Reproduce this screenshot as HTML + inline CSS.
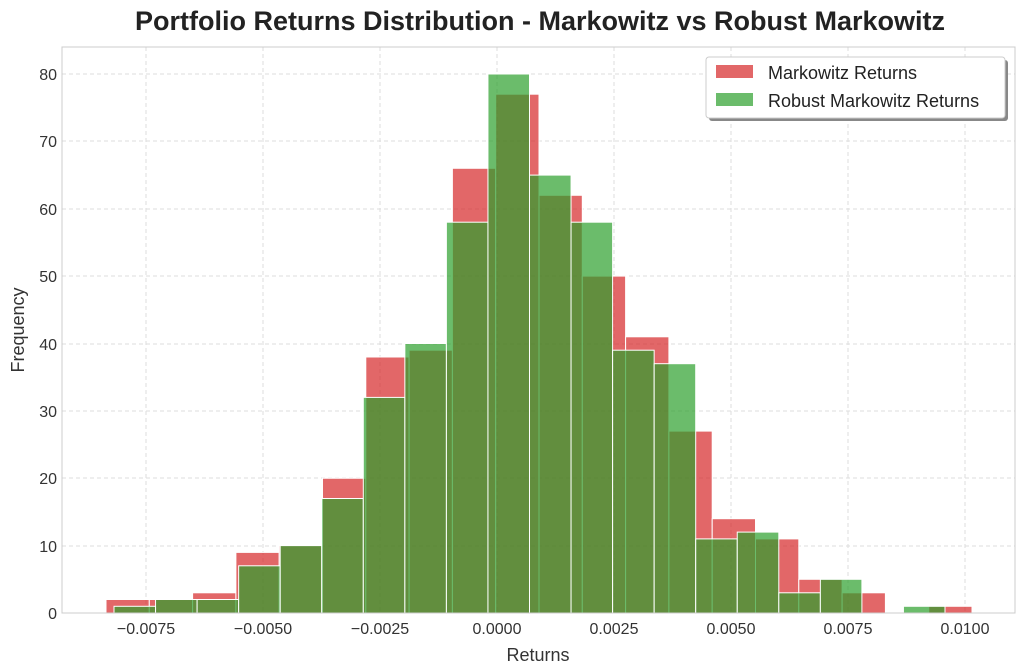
<!DOCTYPE html>
<html><head><meta charset="utf-8"><style>body{margin:0;background:#fff}svg{display:block;font-family:"Liberation Sans",Arial,sans-serif}</style></head><body>
<svg width="1024" height="672" viewBox="0 0 1024 672" xmlns="http://www.w3.org/2000/svg">
<rect width="1024" height="672" fill="#fff"/>
<text x="540" y="30" text-anchor="middle" font-size="27" font-weight="bold" fill="#222">Portfolio Returns Distribution - Markowitz vs Robust Markowitz</text>
<g stroke="#ddd" stroke-dasharray="4,3" stroke-width="1">
<line x1="146" y1="47" x2="146" y2="613"/><line x1="263" y1="47" x2="263" y2="613"/><line x1="380" y1="47" x2="380" y2="613"/><line x1="497" y1="47" x2="497" y2="613"/><line x1="614" y1="47" x2="614" y2="613"/><line x1="731" y1="47" x2="731" y2="613"/><line x1="848" y1="47" x2="848" y2="613"/><line x1="965" y1="47" x2="965" y2="613"/>
<line x1="62" y1="546" x2="1015" y2="546"/><line x1="62" y1="478" x2="1015" y2="478"/><line x1="62" y1="411" x2="1015" y2="411"/><line x1="62" y1="344" x2="1015" y2="344"/><line x1="62" y1="276" x2="1015" y2="276"/><line x1="62" y1="209" x2="1015" y2="209"/><line x1="62" y1="141" x2="1015" y2="141"/><line x1="62" y1="74" x2="1015" y2="74"/>
</g>
<g stroke="#fff" stroke-width="1" fill="rgba(214,39,40,0.7)">
<rect x="106" y="599.5" width="43.3" height="13.5"/>
<rect x="149.3" y="599.5" width="43.3" height="13.5"/>
<rect x="192.6" y="592.8" width="43.3" height="20.2"/>
<rect x="235.9" y="552.4" width="43.3" height="60.6"/>
<rect x="279.2" y="545.6" width="43.3" height="67.4"/>
<rect x="322.5" y="478.25" width="43.3" height="134.75"/>
<rect x="365.8" y="357" width="43.3" height="256"/>
<rect x="409.1" y="350.2" width="43.3" height="262.8"/>
<rect x="452.4" y="168.3" width="43.3" height="444.7"/>
<rect x="495.7" y="94.2" width="43.3" height="518.8"/>
<rect x="539" y="195.3" width="43.3" height="417.7"/>
<rect x="582.3" y="276.1" width="43.3" height="336.9"/>
<rect x="625.6" y="336.8" width="43.3" height="276.2"/>
<rect x="668.9" y="431.1" width="43.3" height="181.9"/>
<rect x="712.2" y="518.7" width="43.3" height="94.3"/>
<rect x="755.5" y="538.9" width="43.3" height="74.1"/>
<rect x="798.8" y="579.3" width="43.3" height="33.7"/>
<rect x="842.1" y="592.8" width="43.3" height="20.2"/>
<rect x="928.7" y="606.3" width="43.3" height="6.7"/>
</g>
<g stroke="#fff" stroke-width="1" fill="rgba(44,160,44,0.7)">
<rect x="114" y="606.3" width="41.55" height="6.7"/>
<rect x="155.55" y="599.5" width="41.55" height="13.5"/>
<rect x="197.1" y="599.5" width="41.55" height="13.5"/>
<rect x="238.65" y="565.8" width="41.55" height="47.2"/>
<rect x="280.2" y="545.6" width="41.55" height="67.4"/>
<rect x="321.75" y="498.5" width="41.55" height="114.5"/>
<rect x="363.3" y="397.4" width="41.55" height="215.6"/>
<rect x="404.85" y="343.5" width="41.55" height="269.5"/>
<rect x="446.4" y="222.2" width="41.55" height="390.8"/>
<rect x="487.95" y="74" width="41.55" height="539"/>
<rect x="529.5" y="175.1" width="41.55" height="437.9"/>
<rect x="571.05" y="222.2" width="41.55" height="390.8"/>
<rect x="612.6" y="350.2" width="41.55" height="262.8"/>
<rect x="654.15" y="363.7" width="41.55" height="249.3"/>
<rect x="695.7" y="538.9" width="41.55" height="74.1"/>
<rect x="737.25" y="532.1" width="41.55" height="80.9"/>
<rect x="778.8" y="592.8" width="41.55" height="20.2"/>
<rect x="820.35" y="579.3" width="41.55" height="33.7"/>
<rect x="903.45" y="606.3" width="41.55" height="6.7"/>
</g>
<rect x="62" y="47" width="953" height="566" fill="none" stroke="#ccc"/>
<g font-size="16" fill="#333" text-anchor="end">
<text x="57" y="619">0</text><text x="57" y="552">10</text><text x="57" y="484">20</text><text x="57" y="417">30</text><text x="57" y="350">40</text><text x="57" y="282">50</text><text x="57" y="215">60</text><text x="57" y="147">70</text><text x="57" y="80">80</text>
</g>
<g font-size="16" fill="#333" text-anchor="middle">
<text x="146" y="634">−0.0075</text><text x="263" y="634">−0.0050</text><text x="380" y="634">−0.0025</text><text x="497" y="634">0.0000</text><text x="614" y="634">0.0025</text><text x="731" y="634">0.0050</text><text x="848" y="634">0.0075</text><text x="965" y="634">0.0100</text>
</g>
<text x="538" y="661" text-anchor="middle" font-size="18" fill="#333">Returns</text>
<text transform="translate(24,330) rotate(-90)" text-anchor="middle" font-size="18" fill="#333">Frequency</text>
<rect x="709" y="60" width="299" height="61" rx="3" fill="#888"/>
<rect x="706" y="57" width="299" height="61" rx="3" fill="#fff" stroke="#ccc"/>
<rect x="716" y="65" width="37" height="13" fill="rgba(214,39,40,0.7)"/>
<rect x="716" y="93" width="37" height="13" fill="rgba(44,160,44,0.7)"/>
<text x="768" y="79" font-size="18" fill="#222">Markowitz Returns</text>
<text x="768" y="107" font-size="18" fill="#222">Robust Markowitz Returns</text>
</svg>
</body></html>
